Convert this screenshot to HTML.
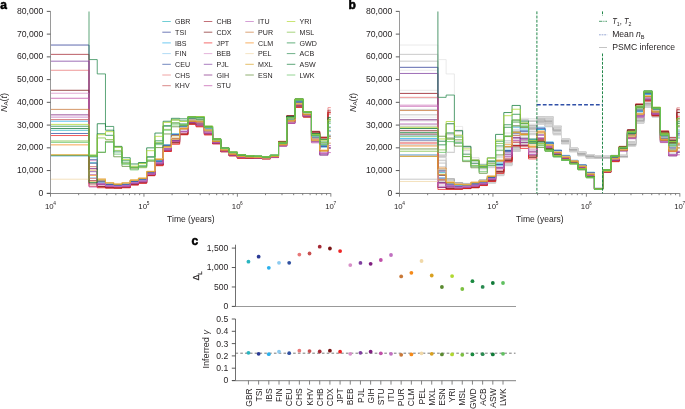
<!DOCTYPE html><html><head><meta charset="utf-8"><style>html,body{margin:0;padding:0;background:#fff;width:685px;height:409px;overflow:hidden}svg{display:block;will-change:transform}text{font-family:"Liberation Sans", sans-serif}</style></head><body><svg width="685" height="409" viewBox="0 0 685 409"><defs><clipPath id="ca"><rect x="51" y="11.4" width="281" height="182"/></clipPath><clipPath id="cb"><rect x="400" y="11.4" width="281" height="182"/></clipPath></defs><text x="0.2" y="8.8" font-size="12" font-weight="bold" fill="#000" stroke="#000" stroke-width="0.55">a</text><path d="M50.50 11.40V193.30" stroke="#9a9a9a" stroke-width="1" fill="none"/><path d="M46.80 193.50H330.80" stroke="#8a8a8a" stroke-width="1.1" fill="none"/><path d="M46.80 193.30H50.50" stroke="#4a4a4a" stroke-width="0.9"/><text x="43.30" y="195.90" font-size="8.3" fill="#231f20" text-anchor="end" textLength="4.80" lengthAdjust="spacingAndGlyphs">0</text><path d="M46.80 170.56H50.50" stroke="#4a4a4a" stroke-width="0.9"/><text x="43.30" y="173.16" font-size="8.3" fill="#231f20" text-anchor="end" textLength="26.40" lengthAdjust="spacingAndGlyphs">10,000</text><path d="M46.80 147.82H50.50" stroke="#4a4a4a" stroke-width="0.9"/><text x="43.30" y="150.42" font-size="8.3" fill="#231f20" text-anchor="end" textLength="26.40" lengthAdjust="spacingAndGlyphs">20,000</text><path d="M46.80 125.08H50.50" stroke="#4a4a4a" stroke-width="0.9"/><text x="43.30" y="127.68" font-size="8.3" fill="#231f20" text-anchor="end" textLength="26.40" lengthAdjust="spacingAndGlyphs">30,000</text><path d="M46.80 102.34H50.50" stroke="#4a4a4a" stroke-width="0.9"/><text x="43.30" y="104.94" font-size="8.3" fill="#231f20" text-anchor="end" textLength="26.40" lengthAdjust="spacingAndGlyphs">40,000</text><path d="M46.80 79.60H50.50" stroke="#4a4a4a" stroke-width="0.9"/><text x="43.30" y="82.20" font-size="8.3" fill="#231f20" text-anchor="end" textLength="26.40" lengthAdjust="spacingAndGlyphs">50,000</text><path d="M46.80 56.86H50.50" stroke="#4a4a4a" stroke-width="0.9"/><text x="43.30" y="59.46" font-size="8.3" fill="#231f20" text-anchor="end" textLength="26.40" lengthAdjust="spacingAndGlyphs">60,000</text><path d="M46.80 34.12H50.50" stroke="#4a4a4a" stroke-width="0.9"/><text x="43.30" y="36.72" font-size="8.3" fill="#231f20" text-anchor="end" textLength="26.40" lengthAdjust="spacingAndGlyphs">70,000</text><path d="M46.80 11.38H50.50" stroke="#4a4a4a" stroke-width="0.9"/><text x="43.30" y="13.98" font-size="8.3" fill="#231f20" text-anchor="end" textLength="26.40" lengthAdjust="spacingAndGlyphs">80,000</text><path d="M50.50 193.30V196.70" stroke="#767676" stroke-width="0.9"/><path d="M78.63 193.30V195.20" stroke="#767676" stroke-width="0.9"/><path d="M95.09 193.30V195.20" stroke="#767676" stroke-width="0.9"/><path d="M106.76 193.30V195.20" stroke="#767676" stroke-width="0.9"/><path d="M115.82 193.30V195.20" stroke="#767676" stroke-width="0.9"/><path d="M123.22 193.30V195.20" stroke="#767676" stroke-width="0.9"/><path d="M129.47 193.30V195.20" stroke="#767676" stroke-width="0.9"/><path d="M134.89 193.30V195.20" stroke="#767676" stroke-width="0.9"/><path d="M139.67 193.30V195.20" stroke="#767676" stroke-width="0.9"/><path d="M143.95 193.30V196.70" stroke="#767676" stroke-width="0.9"/><path d="M172.08 193.30V195.20" stroke="#767676" stroke-width="0.9"/><path d="M188.54 193.30V195.20" stroke="#767676" stroke-width="0.9"/><path d="M200.21 193.30V195.20" stroke="#767676" stroke-width="0.9"/><path d="M209.27 193.30V195.20" stroke="#767676" stroke-width="0.9"/><path d="M216.67 193.30V195.20" stroke="#767676" stroke-width="0.9"/><path d="M222.92 193.30V195.20" stroke="#767676" stroke-width="0.9"/><path d="M228.34 193.30V195.20" stroke="#767676" stroke-width="0.9"/><path d="M233.12 193.30V195.20" stroke="#767676" stroke-width="0.9"/><path d="M237.40 193.30V196.70" stroke="#767676" stroke-width="0.9"/><path d="M265.53 193.30V195.20" stroke="#767676" stroke-width="0.9"/><path d="M281.99 193.30V195.20" stroke="#767676" stroke-width="0.9"/><path d="M293.66 193.30V195.20" stroke="#767676" stroke-width="0.9"/><path d="M302.72 193.30V195.20" stroke="#767676" stroke-width="0.9"/><path d="M310.12 193.30V195.20" stroke="#767676" stroke-width="0.9"/><path d="M316.37 193.30V195.20" stroke="#767676" stroke-width="0.9"/><path d="M321.79 193.30V195.20" stroke="#767676" stroke-width="0.9"/><path d="M326.57 193.30V195.20" stroke="#767676" stroke-width="0.9"/><path d="M330.85 193.30V196.70" stroke="#767676" stroke-width="0.9"/><text x="44.90" y="208.6" font-size="7.8" fill="#231f20">10<tspan font-size="4.8" dx="-0.4" dy="-3.3">4</tspan></text><text x="138.35" y="208.6" font-size="7.8" fill="#231f20">10<tspan font-size="4.8" dx="-0.4" dy="-3.3">5</tspan></text><text x="231.80" y="208.6" font-size="7.8" fill="#231f20">10<tspan font-size="4.8" dx="-0.4" dy="-3.3">6</tspan></text><text x="325.25" y="208.6" font-size="7.8" fill="#231f20">10<tspan font-size="4.8" dx="-0.4" dy="-3.3">7</tspan></text><text x="190.90" y="221.8" font-size="9.1" fill="#231f20" text-anchor="middle" textLength="47.6" lengthAdjust="spacingAndGlyphs">Time (years)</text><text transform="translate(6.60 102.5) rotate(-90)" font-size="8.3" fill="#231f20" text-anchor="middle" textLength="19" lengthAdjust="spacingAndGlyphs"><tspan font-style="italic">N</tspan><tspan font-size="5.8" dy="1.7">A</tspan><tspan dy="-1.7">(</tspan><tspan font-style="italic">t</tspan>)</text><g clip-path="url(#ca)" fill="none" stroke-width="0.90"><path d="M51.00 130.31H89.00V162.79H97.24V180.96H105.48V184.59H113.72V184.71H121.96V184.37H130.20V181.30H138.44V179.63H146.68V172.61H154.92V161.11H163.16V144.85H171.40V133.55H179.64V126.17H187.88V118.81H196.12V120.35H204.36V128.86H212.60V140.66H220.84V149.25H229.08V153.34H237.32V155.70H245.56V156.25H253.80V156.78H262.04V157.38H270.28V155.78H278.52V143.62H286.76V119.68H295.00V101.79H303.24V113.44H311.48V136.43H319.72V145.42H327.96V130.32H330.80" stroke="#2bb5c0" stroke-opacity="0.85"/><path d="M51.00 45.04H89.00V159.76H97.24V182.96H105.48V184.22H113.72V185.43H121.96V184.74H130.20V181.63H138.44V179.59H146.68V172.80H154.92V161.67H163.16V145.25H171.40V134.63H179.64V127.46H187.88V119.26H196.12V119.52H204.36V130.33H212.60V140.19H220.84V149.30H229.08V153.08H237.32V155.62H245.56V156.77H253.80V156.75H262.04V157.51H270.28V156.15H278.52V144.23H286.76V120.23H295.00V102.20H303.24V114.69H311.48V137.47H319.72V146.10H327.96V136.66H330.80" stroke="#2a3a95" stroke-opacity="0.85"/><path d="M51.00 121.21H89.00V178.02H97.24V182.87H105.48V185.23H113.72V185.23H121.96V184.51H130.20V182.33H138.44V180.46H146.68V173.62H154.92V161.92H163.16V146.11H171.40V135.60H179.64V126.00H187.88V120.66H196.12V121.13H204.36V130.43H212.60V141.01H220.84V149.91H229.08V153.74H237.32V156.41H245.56V156.77H253.80V157.22H262.04V157.85H270.28V156.30H278.52V144.49H286.76V120.31H295.00V103.12H303.24V114.53H311.48V138.53H319.72V147.20H327.96V135.15H330.80" stroke="#2ab0ec" stroke-opacity="0.85"/><path d="M51.00 156.23H89.00V157.60H97.24V181.39H105.48V183.89H113.72V184.58H121.96V184.19H130.20V181.70H138.44V179.39H146.68V172.67H154.92V160.16H163.16V144.93H171.40V133.67H179.64V125.39H187.88V117.92H196.12V118.76H204.36V128.03H212.60V139.78H220.84V148.83H229.08V153.13H237.32V155.35H245.56V156.23H253.80V156.61H262.04V157.32H270.28V155.60H278.52V143.03H286.76V118.53H295.00V100.42H303.24V113.33H311.48V136.32H319.72V143.63H327.96V126.50H330.80" stroke="#8ccbf0" stroke-opacity="0.85"/><path d="M51.00 133.49H89.00V163.19H97.24V181.37H105.48V184.46H113.72V185.12H121.96V184.41H130.20V181.50H138.44V179.75H146.68V172.64H154.92V160.84H163.16V145.30H171.40V134.86H179.64V126.84H187.88V119.08H196.12V121.33H204.36V129.03H212.60V140.79H220.84V148.95H229.08V153.43H237.32V155.59H245.56V156.47H253.80V156.89H262.04V157.32H270.28V155.99H278.52V143.79H286.76V120.49H295.00V101.89H303.24V112.96H311.48V138.36H319.72V146.52H327.96V131.44H330.80" stroke="#3050a0" stroke-opacity="0.85"/><path d="M51.00 70.28H89.00V178.42H97.24V186.08H105.48V187.09H113.72V187.33H121.96V186.58H130.20V183.87H138.44V182.30H146.68V174.88H154.92V164.49H163.16V150.52H171.40V142.30H179.64V133.34H187.88V123.13H196.12V125.46H204.36V132.69H212.60V143.14H220.84V151.06H229.08V155.29H237.32V157.59H245.56V157.87H253.80V157.77H262.04V158.68H270.28V157.22H278.52V141.23H286.76V115.52H295.00V105.86H303.24V116.62H311.48V131.16H319.72V137.45H327.96V107.65H330.80" stroke="#e87878" stroke-opacity="0.85"/><path d="M51.00 119.62H89.00V166.68H97.24V186.72H105.48V187.99H113.72V188.09H121.96V187.54H130.20V184.96H138.44V182.89H146.68V175.22H154.92V165.25H163.16V151.26H171.40V143.55H179.64V134.41H187.88V123.05H196.12V126.21H204.36V134.49H212.60V143.57H220.84V151.75H229.08V155.57H237.32V158.14H245.56V158.25H253.80V158.18H262.04V158.82H270.28V157.49H278.52V141.76H286.76V116.70H295.00V107.06H303.24V117.13H311.48V132.54H319.72V139.03H327.96V114.02H330.80" stroke="#c85050" stroke-opacity="0.85"/><path d="M51.00 54.36H89.00V180.60H97.24V186.61H105.48V187.36H113.72V187.88H121.96V187.20H130.20V184.49H138.44V182.70H146.68V175.18H154.92V164.78H163.16V150.34H171.40V141.82H179.64V133.81H187.88V124.02H196.12V126.10H204.36V133.88H212.60V143.71H220.84V151.67H229.08V155.51H237.32V157.76H245.56V158.07H253.80V157.77H262.04V158.64H270.28V157.20H278.52V141.56H286.76V115.80H295.00V105.78H303.24V116.25H311.48V131.90H319.72V137.28H327.96V110.19H330.80" stroke="#a52a35" stroke-opacity="0.85"/><path d="M51.00 90.29H89.00V183.95H97.24V186.93H105.48V187.75H113.72V187.98H121.96V187.54H130.20V184.47H138.44V182.96H146.68V175.48H154.92V165.00H163.16V151.08H171.40V142.32H179.64V134.40H187.88V123.92H196.12V124.96H204.36V133.82H212.60V143.45H220.84V151.64H229.08V155.75H237.32V157.90H245.56V158.03H253.80V157.96H262.04V158.67H270.28V157.30H278.52V141.99H286.76V115.87H295.00V107.00H303.24V116.80H311.48V131.67H319.72V137.30H327.96V112.15H330.80" stroke="#7a1515" stroke-opacity="0.85"/><path d="M51.00 135.54H89.00V186.23H97.24V187.79H105.48V188.05H113.72V188.05H121.96V187.79H130.20V185.04H138.44V183.28H146.68V175.76H154.92V165.74H163.16V151.50H171.40V144.33H179.64V134.84H187.88V124.36H196.12V126.89H204.36V135.06H212.60V143.87H220.84V151.61H229.08V155.90H237.32V158.23H245.56V158.24H253.80V158.26H262.04V158.88H270.28V157.60H278.52V141.97H286.76V117.12H295.00V107.38H303.24V116.98H311.48V133.25H319.72V138.00H327.96V112.36H330.80" stroke="#ee2525" stroke-opacity="0.85"/><path d="M51.00 93.24H89.00V160.65H97.24V183.10H105.48V185.42H113.72V186.20H121.96V185.42H130.20V182.48H138.44V180.58H146.68V173.37H154.92V162.53H163.16V149.03H171.40V138.62H179.64V129.39H187.88V121.40H196.12V122.35H204.36V130.99H212.60V141.98H220.84V150.09H229.08V154.29H237.32V156.79H245.56V157.12H253.80V157.36H262.04V158.07H270.28V156.36H278.52V145.41H286.76V121.32H295.00V104.35H303.24V114.91H311.48V139.76H319.72V150.93H327.96V145.53H330.80" stroke="#d890c8" stroke-opacity="0.85"/><path d="M51.00 61.18H89.00V171.67H97.24V184.42H105.48V185.88H113.72V186.32H121.96V186.08H130.20V183.08H138.44V181.15H146.68V173.67H154.92V163.00H163.16V148.60H171.40V140.29H179.64V131.38H187.88V122.40H196.12V123.41H204.36V131.88H212.60V142.43H220.84V150.82H229.08V154.84H237.32V157.06H245.56V157.41H253.80V157.77H262.04V158.46H270.28V156.93H278.52V146.04H286.76V122.94H295.00V103.92H303.24V114.91H311.48V141.87H319.72V154.21H327.96V148.43H330.80" stroke="#8040a0" stroke-opacity="0.85"/><path d="M51.00 114.85H89.00V168.56H97.24V183.99H105.48V186.66H113.72V186.40H121.96V185.98H130.20V183.56H138.44V181.65H146.68V174.24H154.92V163.38H163.16V149.17H171.40V140.67H179.64V131.36H187.88V122.61H196.12V124.06H204.36V133.44H212.60V142.94H220.84V150.39H229.08V154.91H237.32V157.26H245.56V157.76H253.80V157.78H262.04V158.26H270.28V156.90H278.52V145.87H286.76V123.28H295.00V105.81H303.24V116.19H311.48V141.52H319.72V155.20H327.96V147.57H330.80" stroke="#802080" stroke-opacity="0.85"/><path d="M51.00 98.25H89.00V186.96H97.24V184.79H105.48V186.43H113.72V186.62H121.96V186.75H130.20V183.74H138.44V181.92H146.68V174.64H154.92V163.98H163.16V150.21H171.40V141.52H179.64V132.13H187.88V122.01H196.12V125.46H204.36V133.71H212.60V143.05H220.84V151.17H229.08V155.12H237.32V157.50H245.56V157.73H253.80V157.87H262.04V158.65H270.28V157.17H278.52V146.12H286.76V123.44H295.00V104.86H303.24V115.91H311.48V142.82H319.72V153.50H327.96V152.59H330.80" stroke="#c050a8" stroke-opacity="0.85"/><path d="M51.00 117.12H89.00V174.53H97.24V183.49H105.48V185.77H113.72V186.53H121.96V185.62H130.20V182.68H138.44V181.07H146.68V173.92H154.92V162.84H163.16V148.16H171.40V138.72H179.64V131.33H187.88V121.57H196.12V122.91H204.36V132.57H212.60V142.04H220.84V150.45H229.08V154.54H237.32V156.47H245.56V157.22H253.80V157.37H262.04V158.14H270.28V156.92H278.52V145.75H286.76V122.56H295.00V103.58H303.24V115.86H311.48V141.33H319.72V152.44H327.96V145.61H330.80" stroke="#c070c0" stroke-opacity="0.85"/><path d="M51.00 109.39H89.00V170.12H97.24V180.80H105.48V182.90H113.72V184.11H121.96V182.98H130.20V180.50H138.44V178.49H146.68V171.71H154.92V159.28H163.16V146.45H171.40V138.79H179.64V128.14H187.88V121.22H196.12V122.83H204.36V131.01H212.60V141.49H220.84V150.44H229.08V153.87H237.32V156.33H245.56V157.26H253.80V157.06H262.04V157.95H270.28V156.46H278.52V144.89H286.76V121.74H295.00V103.23H303.24V114.88H311.48V140.05H319.72V150.60H327.96V143.17H330.80" stroke="#c87838" stroke-opacity="0.85"/><path d="M51.00 144.86H89.00V175.35H97.24V178.76H105.48V182.55H113.72V183.72H121.96V182.53H130.20V180.02H138.44V178.25H146.68V171.44H154.92V159.00H163.16V147.34H171.40V135.68H179.64V128.50H187.88V120.26H196.12V121.59H204.36V130.02H212.60V141.06H220.84V149.59H229.08V154.27H237.32V156.56H245.56V157.05H253.80V156.93H262.04V157.71H270.28V156.28H278.52V144.83H286.76V120.77H295.00V104.02H303.24V114.07H311.48V139.02H319.72V150.61H327.96V135.99H330.80" stroke="#f58a1a" stroke-opacity="0.85"/><path d="M51.00 179.20H89.00V170.33H97.24V178.65H105.48V182.73H113.72V183.40H121.96V182.55H130.20V179.97H138.44V177.90H146.68V171.09H154.92V158.57H163.16V147.12H171.40V137.48H179.64V127.44H187.88V119.75H196.12V120.84H204.36V130.09H212.60V140.53H220.84V149.47H229.08V153.47H237.32V156.29H245.56V156.69H253.80V157.18H262.04V157.79H270.28V156.15H278.52V144.28H286.76V120.12H295.00V103.55H303.24V113.48H311.48V138.17H319.72V149.64H327.96V131.62H330.80" stroke="#f0d8a8" stroke-opacity="0.85"/><path d="M51.00 154.64H89.00V181.89H97.24V179.63H105.48V183.02H113.72V184.35H121.96V183.04H130.20V180.02H138.44V178.21H146.68V171.49H154.92V159.32H163.16V146.74H171.40V139.06H179.64V129.13H187.88V121.44H196.12V121.04H204.36V130.14H212.60V141.51H220.84V149.98H229.08V153.93H237.32V156.50H245.56V156.87H253.80V157.25H262.04V157.78H270.28V156.38H278.52V144.55H286.76V120.64H295.00V103.89H303.24V114.48H311.48V140.68H319.72V151.20H327.96V138.43H330.80" stroke="#d8a020" stroke-opacity="0.85"/><path d="M51.00 155.55H89.00V156.56H97.24V152.42H105.48V141.27H113.72V156.78H121.96V166.37H130.20V168.84H138.44V166.92H146.68V161.22H154.92V147.60H163.16V133.96H171.40V126.77H179.64V125.58H187.88V118.10H196.12V117.89H204.36V127.56H212.60V139.83H220.84V148.58H229.08V152.72H237.32V155.24H245.56V155.93H253.80V156.51H262.04V157.06H270.28V155.61H278.52V143.50H286.76V118.94H295.00V100.33H303.24V112.59H311.48V135.71H319.72V144.02H327.96V127.65H330.80" stroke="#5a8a30" stroke-opacity="0.85"/><path d="M51.00 126.22H89.00V155.33H97.24V133.76H105.48V135.31H113.72V147.00H121.96V160.79H130.20V167.13H138.44V162.93H146.68V156.99H154.92V140.82H163.16V125.75H171.40V119.90H179.64V120.90H187.88V116.90H196.12V117.35H204.36V126.37H212.60V139.11H220.84V148.08H229.08V152.31H237.32V154.90H245.56V155.76H253.80V156.11H262.04V156.83H270.28V155.24H278.52V142.64H286.76V117.57H295.00V99.00H303.24V112.04H311.48V133.38H319.72V142.00H327.96V119.26H330.80" stroke="#1a8a40" stroke-opacity="0.85"/><path d="M51.00 -22.73H89.00V59.59H97.24V73.92H105.48V126.44H113.72V151.87H121.96V162.88H130.20V167.33H138.44V165.95H146.68V156.89H154.92V143.42H163.16V126.11H171.40V123.02H179.64V123.90H187.88V117.31H196.12V117.62H204.36V126.49H212.60V139.17H220.84V148.11H229.08V152.37H237.32V154.54H245.56V155.86H253.80V156.32H262.04V156.94H270.28V155.34H278.52V142.27H286.76V116.95H295.00V99.62H303.24V111.82H311.48V135.01H319.72V139.76H327.96V121.89H330.80" stroke="#2a8a50" stroke-opacity="0.85"/><path d="M51.00 128.49H89.00V182.61H97.24V123.72H105.48V130.21H113.72V146.37H121.96V157.72H130.20V163.97H138.44V162.68H146.68V147.83H154.92V133.05H163.16V121.25H171.40V118.32H179.64V118.84H187.88V116.59H196.12V116.72H204.36V126.33H212.60V138.72H220.84V147.89H229.08V151.96H237.32V154.51H245.56V155.56H253.80V156.04H262.04V156.74H270.28V155.10H278.52V142.19H286.76V116.36H295.00V98.75H303.24V111.61H311.48V133.69H319.72V139.26H327.96V117.46H330.80" stroke="#107a38" stroke-opacity="0.85"/><path d="M51.00 124.40H89.00V154.99H97.24V134.76H105.48V131.63H113.72V147.16H121.96V159.55H130.20V166.15H138.44V163.63H146.68V150.66H154.92V136.33H163.16V122.43H171.40V119.93H179.64V121.41H187.88V116.77H196.12V116.62H204.36V126.03H212.60V138.95H220.84V148.24H229.08V152.01H237.32V154.63H245.56V155.58H253.80V156.13H262.04V156.75H270.28V155.23H278.52V142.21H286.76V117.73H295.00V99.03H303.24V111.64H311.48V134.43H319.72V140.19H327.96V120.05H330.80" stroke="#b0d830" stroke-opacity="0.85"/><path d="M51.00 141.00H89.00V156.14H97.24V137.94H105.48V139.57H113.72V150.43H121.96V163.29H130.20V167.59H138.44V167.70H146.68V160.28H154.92V142.62H163.16V129.38H171.40V122.91H179.64V125.03H187.88V117.19H196.12V119.28H204.36V127.06H212.60V139.76H220.84V148.21H229.08V152.22H237.32V154.92H245.56V156.00H253.80V156.29H262.04V157.04H270.28V155.45H278.52V143.01H286.76V117.85H295.00V99.47H303.24V112.67H311.48V134.33H319.72V142.34H327.96V119.87H330.80" stroke="#7cc040" stroke-opacity="0.85"/><path d="M51.00 142.36H89.00V155.76H97.24V152.15H105.48V142.40H113.72V154.14H121.96V164.30H130.20V169.90H138.44V166.11H146.68V160.06H154.92V144.64H163.16V130.23H171.40V124.91H179.64V124.56H187.88V117.34H196.12V117.62H204.36V127.19H212.60V139.36H220.84V148.56H229.08V152.48H237.32V154.96H245.56V155.92H253.80V156.26H262.04V157.14H270.28V155.28H278.52V143.54H286.76V117.57H295.00V100.51H303.24V112.46H311.48V135.85H319.72V144.68H327.96V123.59H330.80" stroke="#60c060" stroke-opacity="0.85"/></g><path d="M162.30 21.50H170.80" stroke="#2bb5c0" stroke-width="0.9" opacity="0.75"/><text x="175.10" y="24.10" font-size="7.1" fill="#231f20">GBR</text><path d="M162.30 32.20H170.80" stroke="#2a3a95" stroke-width="0.9" opacity="0.75"/><text x="175.10" y="34.80" font-size="7.1" fill="#231f20">TSI</text><path d="M162.30 42.90H170.80" stroke="#2ab0ec" stroke-width="0.9" opacity="0.75"/><text x="175.10" y="45.50" font-size="7.1" fill="#231f20">IBS</text><path d="M162.30 53.60H170.80" stroke="#8ccbf0" stroke-width="0.9" opacity="0.75"/><text x="175.10" y="56.20" font-size="7.1" fill="#231f20">FIN</text><path d="M162.30 64.30H170.80" stroke="#3050a0" stroke-width="0.9" opacity="0.75"/><text x="175.10" y="66.90" font-size="7.1" fill="#231f20">CEU</text><path d="M162.30 75.00H170.80" stroke="#e87878" stroke-width="0.9" opacity="0.75"/><text x="175.10" y="77.60" font-size="7.1" fill="#231f20">CHS</text><path d="M162.30 85.70H170.80" stroke="#c85050" stroke-width="0.9" opacity="0.75"/><text x="175.10" y="88.30" font-size="7.1" fill="#231f20">KHV</text><path d="M203.80 21.50H212.30" stroke="#a52a35" stroke-width="0.9" opacity="0.75"/><text x="216.60" y="24.10" font-size="7.1" fill="#231f20">CHB</text><path d="M203.80 32.20H212.30" stroke="#7a1515" stroke-width="0.9" opacity="0.75"/><text x="216.60" y="34.80" font-size="7.1" fill="#231f20">CDX</text><path d="M203.80 42.90H212.30" stroke="#ee2525" stroke-width="0.9" opacity="0.75"/><text x="216.60" y="45.50" font-size="7.1" fill="#231f20">JPT</text><path d="M203.80 53.60H212.30" stroke="#d890c8" stroke-width="0.9" opacity="0.75"/><text x="216.60" y="56.20" font-size="7.1" fill="#231f20">BEB</text><path d="M203.80 64.30H212.30" stroke="#8040a0" stroke-width="0.9" opacity="0.75"/><text x="216.60" y="66.90" font-size="7.1" fill="#231f20">PJL</text><path d="M203.80 75.00H212.30" stroke="#802080" stroke-width="0.9" opacity="0.75"/><text x="216.60" y="77.60" font-size="7.1" fill="#231f20">GIH</text><path d="M203.80 85.70H212.30" stroke="#c050a8" stroke-width="0.9" opacity="0.75"/><text x="216.60" y="88.30" font-size="7.1" fill="#231f20">STU</text><path d="M245.30 21.50H253.80" stroke="#c070c0" stroke-width="0.9" opacity="0.75"/><text x="258.10" y="24.10" font-size="7.1" fill="#231f20">ITU</text><path d="M245.30 32.20H253.80" stroke="#c87838" stroke-width="0.9" opacity="0.75"/><text x="258.10" y="34.80" font-size="7.1" fill="#231f20">PUR</text><path d="M245.30 42.90H253.80" stroke="#f58a1a" stroke-width="0.9" opacity="0.75"/><text x="258.10" y="45.50" font-size="7.1" fill="#231f20">CLM</text><path d="M245.30 53.60H253.80" stroke="#f0d8a8" stroke-width="0.9" opacity="0.75"/><text x="258.10" y="56.20" font-size="7.1" fill="#231f20">PEL</text><path d="M245.30 64.30H253.80" stroke="#d8a020" stroke-width="0.9" opacity="0.75"/><text x="258.10" y="66.90" font-size="7.1" fill="#231f20">MXL</text><path d="M245.30 75.00H253.80" stroke="#5a8a30" stroke-width="0.9" opacity="0.75"/><text x="258.10" y="77.60" font-size="7.1" fill="#231f20">ESN</text><path d="M286.80 21.50H295.30" stroke="#b0d830" stroke-width="0.9" opacity="0.75"/><text x="299.60" y="24.10" font-size="7.1" fill="#231f20">YRI</text><path d="M286.80 32.20H295.30" stroke="#7cc040" stroke-width="0.9" opacity="0.75"/><text x="299.60" y="34.80" font-size="7.1" fill="#231f20">MSL</text><path d="M286.80 42.90H295.30" stroke="#1a8a40" stroke-width="0.9" opacity="0.75"/><text x="299.60" y="45.50" font-size="7.1" fill="#231f20">GWD</text><path d="M286.80 53.60H295.30" stroke="#2a8a50" stroke-width="0.9" opacity="0.75"/><text x="299.60" y="56.20" font-size="7.1" fill="#231f20">ACB</text><path d="M286.80 64.30H295.30" stroke="#107a38" stroke-width="0.9" opacity="0.75"/><text x="299.60" y="66.90" font-size="7.1" fill="#231f20">ASW</text><path d="M286.80 75.00H295.30" stroke="#60c060" stroke-width="0.9" opacity="0.75"/><text x="299.60" y="77.60" font-size="7.1" fill="#231f20">LWK</text><text x="348.4" y="9.0" font-size="12" font-weight="bold" fill="#000" stroke="#000" stroke-width="0.55">b</text><path d="M399.50 11.40V193.30" stroke="#9a9a9a" stroke-width="1" fill="none"/><path d="M395.80 193.50H679.80" stroke="#8a8a8a" stroke-width="1.1" fill="none"/><path d="M395.80 193.30H399.50" stroke="#4a4a4a" stroke-width="0.9"/><text x="392.30" y="195.90" font-size="8.3" fill="#231f20" text-anchor="end" textLength="4.80" lengthAdjust="spacingAndGlyphs">0</text><path d="M395.80 170.56H399.50" stroke="#4a4a4a" stroke-width="0.9"/><text x="392.30" y="173.16" font-size="8.3" fill="#231f20" text-anchor="end" textLength="26.40" lengthAdjust="spacingAndGlyphs">10,000</text><path d="M395.80 147.82H399.50" stroke="#4a4a4a" stroke-width="0.9"/><text x="392.30" y="150.42" font-size="8.3" fill="#231f20" text-anchor="end" textLength="26.40" lengthAdjust="spacingAndGlyphs">20,000</text><path d="M395.80 125.08H399.50" stroke="#4a4a4a" stroke-width="0.9"/><text x="392.30" y="127.68" font-size="8.3" fill="#231f20" text-anchor="end" textLength="26.40" lengthAdjust="spacingAndGlyphs">30,000</text><path d="M395.80 102.34H399.50" stroke="#4a4a4a" stroke-width="0.9"/><text x="392.30" y="104.94" font-size="8.3" fill="#231f20" text-anchor="end" textLength="26.40" lengthAdjust="spacingAndGlyphs">40,000</text><path d="M395.80 79.60H399.50" stroke="#4a4a4a" stroke-width="0.9"/><text x="392.30" y="82.20" font-size="8.3" fill="#231f20" text-anchor="end" textLength="26.40" lengthAdjust="spacingAndGlyphs">50,000</text><path d="M395.80 56.86H399.50" stroke="#4a4a4a" stroke-width="0.9"/><text x="392.30" y="59.46" font-size="8.3" fill="#231f20" text-anchor="end" textLength="26.40" lengthAdjust="spacingAndGlyphs">60,000</text><path d="M395.80 34.12H399.50" stroke="#4a4a4a" stroke-width="0.9"/><text x="392.30" y="36.72" font-size="8.3" fill="#231f20" text-anchor="end" textLength="26.40" lengthAdjust="spacingAndGlyphs">70,000</text><path d="M395.80 11.38H399.50" stroke="#4a4a4a" stroke-width="0.9"/><text x="392.30" y="13.98" font-size="8.3" fill="#231f20" text-anchor="end" textLength="26.40" lengthAdjust="spacingAndGlyphs">80,000</text><path d="M399.50 193.30V196.70" stroke="#767676" stroke-width="0.9"/><path d="M427.63 193.30V195.20" stroke="#767676" stroke-width="0.9"/><path d="M444.09 193.30V195.20" stroke="#767676" stroke-width="0.9"/><path d="M455.76 193.30V195.20" stroke="#767676" stroke-width="0.9"/><path d="M464.82 193.30V195.20" stroke="#767676" stroke-width="0.9"/><path d="M472.22 193.30V195.20" stroke="#767676" stroke-width="0.9"/><path d="M478.47 193.30V195.20" stroke="#767676" stroke-width="0.9"/><path d="M483.89 193.30V195.20" stroke="#767676" stroke-width="0.9"/><path d="M488.67 193.30V195.20" stroke="#767676" stroke-width="0.9"/><path d="M492.95 193.30V196.70" stroke="#767676" stroke-width="0.9"/><path d="M521.08 193.30V195.20" stroke="#767676" stroke-width="0.9"/><path d="M537.54 193.30V195.20" stroke="#767676" stroke-width="0.9"/><path d="M549.21 193.30V195.20" stroke="#767676" stroke-width="0.9"/><path d="M558.27 193.30V195.20" stroke="#767676" stroke-width="0.9"/><path d="M565.67 193.30V195.20" stroke="#767676" stroke-width="0.9"/><path d="M571.92 193.30V195.20" stroke="#767676" stroke-width="0.9"/><path d="M577.34 193.30V195.20" stroke="#767676" stroke-width="0.9"/><path d="M582.12 193.30V195.20" stroke="#767676" stroke-width="0.9"/><path d="M586.40 193.30V196.70" stroke="#767676" stroke-width="0.9"/><path d="M614.53 193.30V195.20" stroke="#767676" stroke-width="0.9"/><path d="M630.99 193.30V195.20" stroke="#767676" stroke-width="0.9"/><path d="M642.66 193.30V195.20" stroke="#767676" stroke-width="0.9"/><path d="M651.72 193.30V195.20" stroke="#767676" stroke-width="0.9"/><path d="M659.12 193.30V195.20" stroke="#767676" stroke-width="0.9"/><path d="M665.37 193.30V195.20" stroke="#767676" stroke-width="0.9"/><path d="M670.79 193.30V195.20" stroke="#767676" stroke-width="0.9"/><path d="M675.57 193.30V195.20" stroke="#767676" stroke-width="0.9"/><path d="M679.85 193.30V196.70" stroke="#767676" stroke-width="0.9"/><text x="393.90" y="208.6" font-size="7.8" fill="#231f20">10<tspan font-size="4.8" dx="-0.4" dy="-3.3">4</tspan></text><text x="487.35" y="208.6" font-size="7.8" fill="#231f20">10<tspan font-size="4.8" dx="-0.4" dy="-3.3">5</tspan></text><text x="580.80" y="208.6" font-size="7.8" fill="#231f20">10<tspan font-size="4.8" dx="-0.4" dy="-3.3">6</tspan></text><text x="674.25" y="208.6" font-size="7.8" fill="#231f20">10<tspan font-size="4.8" dx="-0.4" dy="-3.3">7</tspan></text><text x="539.90" y="221.8" font-size="9.1" fill="#231f20" text-anchor="middle" textLength="47.6" lengthAdjust="spacingAndGlyphs">Time (years)</text><text transform="translate(355.60 102.5) rotate(-90)" font-size="8.3" fill="#231f20" text-anchor="middle" textLength="19" lengthAdjust="spacingAndGlyphs"><tspan font-style="italic">N</tspan><tspan font-size="5.8" dy="1.7">A</tspan><tspan dy="-1.7">(</tspan><tspan font-style="italic">t</tspan>)</text><g clip-path="url(#cb)" fill="none" stroke-width="0.90"><path d="M400.00 130.31H437.90V162.79H446.14V180.96H454.38V184.59H462.62V184.71H470.86V184.37H479.10V181.30H487.34V179.63H495.58V172.61H503.82V161.11H512.06V144.85H520.30V133.55H528.54V126.17H536.78V118.81H545.02V120.35H553.26V128.86H561.50V140.66H569.74V149.25H577.98V153.34H586.22V155.70H594.46V156.25H602.70V156.78H610.94V157.38H619.18V155.78H627.42V143.62H635.66V119.68H643.90V101.79H652.14V113.44H660.38V136.43H668.62V145.42H676.86V130.32H679.80" stroke="#dedede" stroke-opacity="0.75"/><path d="M400.00 45.04H437.90V159.76H446.14V182.96H454.38V184.22H462.62V185.43H470.86V184.74H479.10V181.63H487.34V179.59H495.58V172.80H503.82V161.67H512.06V145.25H520.30V134.63H528.54V127.46H536.78V119.26H545.02V119.52H553.26V130.33H561.50V140.19H569.74V149.30H577.98V153.08H586.22V155.62H594.46V156.77H602.70V156.75H610.94V157.51H619.18V156.15H627.42V144.23H635.66V120.23H643.90V102.20H652.14V114.69H660.38V137.47H668.62V146.10H676.86V136.66H679.80" stroke="#e0e0e0" stroke-opacity="0.75"/><path d="M400.00 121.21H437.90V178.02H446.14V182.87H454.38V185.23H462.62V185.23H470.86V184.51H479.10V182.33H487.34V180.46H495.58V173.62H503.82V161.92H512.06V146.11H520.30V135.60H528.54V126.00H536.78V120.66H545.02V121.13H553.26V130.43H561.50V141.01H569.74V149.91H577.98V153.74H586.22V156.41H594.46V156.77H602.70V157.22H610.94V157.85H619.18V156.30H627.42V144.49H635.66V120.31H643.90V103.12H652.14V114.53H660.38V138.53H668.62V147.20H676.86V135.15H679.80" stroke="#dedede" stroke-opacity="0.75"/><path d="M400.00 156.23H437.90V157.60H446.14V181.39H454.38V183.89H462.62V184.58H470.86V184.19H479.10V181.70H487.34V179.39H495.58V172.67H503.82V160.16H512.06V144.93H520.30V133.67H528.54V125.39H536.78V117.92H545.02V118.76H553.26V128.03H561.50V139.78H569.74V148.83H577.98V153.13H586.22V155.35H594.46V156.23H602.70V156.61H610.94V157.32H619.18V155.60H627.42V143.03H635.66V118.53H643.90V100.42H652.14V113.33H660.38V136.32H668.62V143.63H676.86V126.50H679.80" stroke="#bdbdbd" stroke-opacity="0.75"/><path d="M400.00 133.49H437.90V163.19H446.14V181.37H454.38V184.46H462.62V185.12H470.86V184.41H479.10V181.50H487.34V179.75H495.58V172.64H503.82V160.84H512.06V145.30H520.30V134.86H528.54V126.84H536.78V119.08H545.02V121.33H553.26V129.03H561.50V140.79H569.74V148.95H577.98V153.43H586.22V155.59H594.46V156.47H602.70V156.89H610.94V157.32H619.18V155.99H627.42V143.79H635.66V120.49H643.90V101.89H652.14V112.96H660.38V138.36H668.62V146.52H676.86V131.44H679.80" stroke="#bcbcbc" stroke-opacity="0.75"/><path d="M400.00 70.28H437.90V178.42H446.14V186.08H454.38V187.09H462.62V187.33H470.86V186.58H479.10V183.87H487.34V182.30H495.58V174.88H503.82V164.49H512.06V150.52H520.30V142.30H528.54V133.34H536.78V123.13H545.02V125.46H553.26V132.69H561.50V143.14H569.74V151.06H577.98V155.29H586.22V157.59H594.46V157.87H602.70V157.77H610.94V158.68H619.18V157.22H627.42V141.23H635.66V115.52H643.90V105.86H652.14V116.62H660.38V131.16H668.62V137.45H676.86V107.65H679.80" stroke="#e1e1e1" stroke-opacity="0.75"/><path d="M400.00 119.62H437.90V166.68H446.14V186.72H454.38V187.99H462.62V188.09H470.86V187.54H479.10V184.96H487.34V182.89H495.58V175.22H503.82V165.25H512.06V151.26H520.30V143.55H528.54V134.41H536.78V123.05H545.02V126.21H553.26V134.49H561.50V143.57H569.74V151.75H577.98V155.57H586.22V158.14H594.46V158.25H602.70V158.18H610.94V158.82H619.18V157.49H627.42V141.76H635.66V116.70H643.90V107.06H652.14V117.13H660.38V132.54H668.62V139.03H676.86V114.02H679.80" stroke="#bcbcbc" stroke-opacity="0.75"/><path d="M400.00 54.36H437.90V180.60H446.14V186.61H454.38V187.36H462.62V187.88H470.86V187.20H479.10V184.49H487.34V182.70H495.58V175.18H503.82V164.78H512.06V150.34H520.30V141.82H528.54V133.81H536.78V124.02H545.02V126.10H553.26V133.88H561.50V143.71H569.74V151.67H577.98V155.51H586.22V157.76H594.46V158.07H602.70V157.77H610.94V158.64H619.18V157.20H627.42V141.56H635.66V115.80H643.90V105.78H652.14V116.25H660.38V131.90H668.62V137.28H676.86V110.19H679.80" stroke="#b1b1b1" stroke-opacity="0.75"/><path d="M400.00 90.29H437.90V183.95H446.14V186.93H454.38V187.75H462.62V187.98H470.86V187.54H479.10V184.47H487.34V182.96H495.58V175.48H503.82V165.00H512.06V151.08H520.30V142.32H528.54V134.40H536.78V123.92H545.02V124.96H553.26V133.82H561.50V143.45H569.74V151.64H577.98V155.75H586.22V157.90H594.46V158.03H602.70V157.96H610.94V158.67H619.18V157.30H627.42V141.99H635.66V115.87H643.90V107.00H652.14V116.80H660.38V131.67H668.62V137.30H676.86V112.15H679.80" stroke="#dedede" stroke-opacity="0.75"/><path d="M400.00 135.54H437.90V186.23H446.14V187.79H454.38V188.05H462.62V188.05H470.86V187.79H479.10V185.04H487.34V183.28H495.58V175.76H503.82V165.74H512.06V151.50H520.30V144.33H528.54V134.84H536.78V124.36H545.02V126.89H553.26V135.06H561.50V143.87H569.74V151.61H577.98V155.90H586.22V158.23H594.46V158.24H602.70V158.26H610.94V158.88H619.18V157.60H627.42V141.97H635.66V117.12H643.90V107.38H652.14V116.98H660.38V133.25H668.62V138.00H676.86V112.36H679.80" stroke="#cbcbcb" stroke-opacity="0.75"/><path d="M400.00 93.24H437.90V160.65H446.14V183.10H454.38V185.42H462.62V186.20H470.86V185.42H479.10V182.48H487.34V180.58H495.58V173.37H503.82V162.53H512.06V149.03H520.30V138.62H528.54V129.39H536.78V121.40H545.02V122.35H553.26V130.99H561.50V141.98H569.74V150.09H577.98V154.29H586.22V156.79H594.46V157.12H602.70V157.36H610.94V158.07H619.18V156.36H627.42V145.41H635.66V121.32H643.90V104.35H652.14V114.91H660.38V139.76H668.62V150.93H676.86V145.53H679.80" stroke="#b7b7b7" stroke-opacity="0.75"/><path d="M400.00 61.18H437.90V171.67H446.14V184.42H454.38V185.88H462.62V186.32H470.86V186.08H479.10V183.08H487.34V181.15H495.58V173.67H503.82V163.00H512.06V148.60H520.30V140.29H528.54V131.38H536.78V122.40H545.02V123.41H553.26V131.88H561.50V142.43H569.74V150.82H577.98V154.84H586.22V157.06H594.46V157.41H602.70V157.77H610.94V158.46H619.18V156.93H627.42V146.04H635.66V122.94H643.90V103.92H652.14V114.91H660.38V141.87H668.62V154.21H676.86V148.43H679.80" stroke="#b0b0b0" stroke-opacity="0.75"/><path d="M400.00 114.85H437.90V168.56H446.14V183.99H454.38V186.66H462.62V186.40H470.86V185.98H479.10V183.56H487.34V181.65H495.58V174.24H503.82V163.38H512.06V149.17H520.30V140.67H528.54V131.36H536.78V122.61H545.02V124.06H553.26V133.44H561.50V142.94H569.74V150.39H577.98V154.91H586.22V157.26H594.46V157.76H602.70V157.78H610.94V158.26H619.18V156.90H627.42V145.87H635.66V123.28H643.90V105.81H652.14V116.19H660.38V141.52H668.62V155.20H676.86V147.57H679.80" stroke="#aaaaaa" stroke-opacity="0.75"/><path d="M400.00 98.25H437.90V186.96H446.14V184.79H454.38V186.43H462.62V186.62H470.86V186.75H479.10V183.74H487.34V181.92H495.58V174.64H503.82V163.98H512.06V150.21H520.30V141.52H528.54V132.13H536.78V122.01H545.02V125.46H553.26V133.71H561.50V143.05H569.74V151.17H577.98V155.12H586.22V157.50H594.46V157.73H602.70V157.87H610.94V158.65H619.18V157.17H627.42V146.12H635.66V123.44H643.90V104.86H652.14V115.91H660.38V142.82H668.62V153.50H676.86V152.59H679.80" stroke="#d7d7d7" stroke-opacity="0.75"/><path d="M400.00 117.12H437.90V174.53H446.14V183.49H454.38V185.77H462.62V186.53H470.86V185.62H479.10V182.68H487.34V181.07H495.58V173.92H503.82V162.84H512.06V148.16H520.30V138.72H528.54V131.33H536.78V121.57H545.02V122.91H553.26V132.57H561.50V142.04H569.74V150.45H577.98V154.54H586.22V156.47H594.46V157.22H602.70V157.37H610.94V158.14H619.18V156.92H627.42V145.75H635.66V122.56H643.90V103.58H652.14V115.86H660.38V141.33H668.62V152.44H676.86V145.61H679.80" stroke="#dedede" stroke-opacity="0.75"/><path d="M400.00 109.39H437.90V170.12H446.14V180.80H454.38V182.90H462.62V184.11H470.86V182.98H479.10V180.50H487.34V178.49H495.58V171.71H503.82V159.28H512.06V146.45H520.30V138.79H528.54V128.14H536.78V121.22H545.02V122.83H553.26V131.01H561.50V141.49H569.74V150.44H577.98V153.87H586.22V156.33H594.46V157.26H602.70V157.06H610.94V157.95H619.18V156.46H627.42V144.89H635.66V121.74H643.90V103.23H652.14V114.88H660.38V140.05H668.62V150.60H676.86V143.17H679.80" stroke="#b9b9b9" stroke-opacity="0.75"/><path d="M400.00 144.86H437.90V175.35H446.14V178.76H454.38V182.55H462.62V183.72H470.86V182.53H479.10V180.02H487.34V178.25H495.58V171.44H503.82V159.00H512.06V147.34H520.30V135.68H528.54V128.50H536.78V120.26H545.02V121.59H553.26V130.02H561.50V141.06H569.74V149.59H577.98V154.27H586.22V156.56H594.46V157.05H602.70V156.93H610.94V157.71H619.18V156.28H627.42V144.83H635.66V120.77H643.90V104.02H652.14V114.07H660.38V139.02H668.62V150.61H676.86V135.99H679.80" stroke="#a6a6a6" stroke-opacity="0.75"/><path d="M400.00 179.20H437.90V170.33H446.14V178.65H454.38V182.73H462.62V183.40H470.86V182.55H479.10V179.97H487.34V177.90H495.58V171.09H503.82V158.57H512.06V147.12H520.30V137.48H528.54V127.44H536.78V119.75H545.02V120.84H553.26V130.09H561.50V140.53H569.74V149.47H577.98V153.47H586.22V156.29H594.46V156.69H602.70V157.18H610.94V157.79H619.18V156.15H627.42V144.28H635.66V120.12H643.90V103.55H652.14V113.48H660.38V138.17H668.62V149.64H676.86V131.62H679.80" stroke="#adadad" stroke-opacity="0.75"/><path d="M400.00 154.64H437.90V181.89H446.14V179.63H454.38V183.02H462.62V184.35H470.86V183.04H479.10V180.02H487.34V178.21H495.58V171.49H503.82V159.32H512.06V146.74H520.30V139.06H528.54V129.13H536.78V121.44H545.02V121.04H553.26V130.14H561.50V141.51H569.74V149.98H577.98V153.93H586.22V156.50H594.46V156.87H602.70V157.25H610.94V157.78H619.18V156.38H627.42V144.55H635.66V120.64H643.90V103.89H652.14V114.48H660.38V140.68H668.62V151.20H676.86V138.43H679.80" stroke="#acacac" stroke-opacity="0.75"/><path d="M400.00 155.55H437.90V156.56H446.14V152.42H454.38V141.27H462.62V156.78H470.86V166.37H479.10V168.84H487.34V166.92H495.58V161.22H503.82V147.60H512.06V133.96H520.30V126.77H528.54V125.58H536.78V118.10H545.02V117.89H553.26V127.56H561.50V139.83H569.74V148.58H577.98V152.72H586.22V155.24H594.46V155.93H602.70V156.51H610.94V157.06H619.18V155.61H627.42V143.50H635.66V118.94H643.90V100.33H652.14V112.59H660.38V135.71H668.62V144.02H676.86V127.65H679.80" stroke="#a9a9a9" stroke-opacity="0.75"/><path d="M400.00 124.40H437.90V154.99H446.14V134.76H454.38V131.63H462.62V147.16H470.86V159.55H479.10V166.15H487.34V163.63H495.58V150.66H503.82V136.33H512.06V122.43H520.30V119.93H528.54V121.41H536.78V116.77H545.02V116.62H553.26V126.03H561.50V138.95H569.74V148.24H577.98V152.01H586.22V154.63H594.46V155.58H602.70V156.13H610.94V156.75H619.18V155.23H627.42V142.21H635.66V117.73H643.90V99.03H652.14V111.64H660.38V134.43H668.62V140.19H676.86V120.05H679.80" stroke="#bdbdbd" stroke-opacity="0.75"/><path d="M400.00 141.00H437.90V156.14H446.14V137.94H454.38V139.57H462.62V150.43H470.86V163.29H479.10V167.59H487.34V167.70H495.58V160.28H503.82V142.62H512.06V129.38H520.30V122.91H528.54V125.03H536.78V117.19H545.02V119.28H553.26V127.06H561.50V139.76H569.74V148.21H577.98V152.22H586.22V154.92H594.46V156.00H602.70V156.29H610.94V157.04H619.18V155.45H627.42V143.01H635.66V117.85H643.90V99.47H652.14V112.67H660.38V134.33H668.62V142.34H676.86V119.87H679.80" stroke="#c3c3c3" stroke-opacity="0.75"/><path d="M400.00 126.22H437.90V155.33H446.14V133.76H454.38V135.31H462.62V147.00H470.86V160.79H479.10V167.13H487.34V162.93H495.58V156.99H503.82V140.82H512.06V125.75H520.30V119.90H528.54V120.90H536.78V116.90H545.02V117.35H553.26V126.37H561.50V139.11H569.74V148.08H577.98V152.31H586.22V154.90H594.46V155.76H602.70V156.11H610.94V156.83H619.18V155.24H627.42V142.64H635.66V117.57H643.90V99.00H652.14V112.04H660.38V133.38H668.62V142.00H676.86V119.26H679.80" stroke="#a8a8a8" stroke-opacity="0.75"/><path d="M400.00 -22.73H437.90V59.59H446.14V73.92H454.38V126.44H462.62V151.87H470.86V162.88H479.10V167.33H487.34V165.95H495.58V156.89H503.82V143.42H512.06V126.11H520.30V123.02H528.54V123.90H536.78V117.31H545.02V117.62H553.26V126.49H561.50V139.17H569.74V148.11H577.98V152.37H586.22V154.54H594.46V155.86H602.70V156.32H610.94V156.94H619.18V155.34H627.42V142.27H635.66V116.95H643.90V99.62H652.14V111.82H660.38V135.01H668.62V139.76H676.86V121.89H679.80" stroke="#e0e0e0" stroke-opacity="0.75"/><path d="M400.00 128.49H437.90V182.61H446.14V123.72H454.38V130.21H462.62V146.37H470.86V157.72H479.10V163.97H487.34V162.68H495.58V147.83H503.82V133.05H512.06V121.25H520.30V118.32H528.54V118.84H536.78V116.59H545.02V116.72H553.26V126.33H561.50V138.72H569.74V147.89H577.98V151.96H586.22V154.51H594.46V155.56H602.70V156.04H610.94V156.74H619.18V155.10H627.42V142.19H635.66V116.36H643.90V98.75H652.14V111.61H660.38V133.69H668.62V139.26H676.86V117.46H679.80" stroke="#cecece" stroke-opacity="0.75"/><path d="M400.00 142.36H437.90V155.76H446.14V152.15H454.38V142.40H462.62V154.14H470.86V164.30H479.10V169.90H487.34V166.11H495.58V160.06H503.82V144.64H512.06V130.23H520.30V124.91H528.54V124.56H536.78V117.34H545.02V117.62H553.26V127.19H561.50V139.36H569.74V148.56H577.98V152.48H586.22V154.96H594.46V155.92H602.70V156.26H610.94V157.14H619.18V155.28H627.42V143.54H635.66V117.57H643.90V100.51H652.14V112.46H660.38V135.85H668.62V144.68H676.86V123.59H679.80" stroke="#dddddd" stroke-opacity="0.75"/><path d="M400.00 134.86H437.90V172.68H446.14V184.11H454.38V185.76H462.62V185.96H470.86V183.91H479.10V181.93H487.34V177.35H495.58V163.66H503.82V150.70H512.06V127.10H520.30V128.95H528.54V139.45H536.78V129.39H545.02V141.96H553.26V150.41H561.50V155.36H569.74V160.63H577.98V164.96H586.22V172.39H594.46V188.55H602.70V170.42H610.94V157.09H619.18V148.90H627.42V133.60H635.66V111.18H643.90V93.45H652.14V109.63H660.38V135.52H668.62V144.95H676.86V129.99H679.80" stroke="#2bb5c0" stroke-opacity="0.85"/><path d="M400.00 67.32H437.90V178.09H446.14V184.90H454.38V185.77H462.62V185.74H470.86V184.31H479.10V182.58H487.34V178.05H495.58V164.65H503.82V150.57H512.06V133.07H520.30V130.76H528.54V141.51H536.78V128.95H545.02V143.45H553.26V150.91H561.50V155.86H569.74V160.71H577.98V165.26H586.22V172.93H594.46V188.42H602.70V170.51H610.94V157.14H619.18V149.04H627.42V134.70H635.66V111.09H643.90V94.21H652.14V110.41H660.38V138.09H668.62V148.72H676.86V133.35H679.80" stroke="#2a3a95" stroke-opacity="0.85"/><path d="M400.00 138.50H437.90V171.58H446.14V185.37H454.38V186.57H462.62V186.38H470.86V184.79H479.10V183.16H487.34V178.75H495.58V165.77H503.82V152.77H512.06V132.54H520.30V135.40H528.54V141.94H536.78V129.50H545.02V143.28H553.26V151.56H561.50V156.12H569.74V161.15H577.98V165.50H586.22V173.30H594.46V188.54H602.70V170.84H610.94V158.27H619.18V149.06H627.42V135.58H635.66V111.87H643.90V94.58H652.14V111.42H660.38V137.44H668.62V149.75H676.86V137.74H679.80" stroke="#2ab0ec" stroke-opacity="0.85"/><path d="M400.00 154.64H437.90V177.70H446.14V183.27H454.38V185.34H462.62V185.41H470.86V183.41H479.10V182.05H487.34V177.11H495.58V162.48H503.82V149.24H512.06V127.42H520.30V130.07H528.54V139.35H536.78V127.05H545.02V141.93H553.26V150.24H561.50V155.50H569.74V160.15H577.98V164.72H586.22V172.15H594.46V188.32H602.70V170.06H610.94V156.92H619.18V147.87H627.42V133.09H635.66V109.72H643.90V93.25H652.14V108.86H660.38V135.99H668.62V144.75H676.86V132.67H679.80" stroke="#8ccbf0" stroke-opacity="0.85"/><path d="M400.00 140.09H437.90V170.07H446.14V184.26H454.38V186.46H462.62V186.02H470.86V183.71H479.10V182.19H487.34V177.49H495.58V164.55H503.82V151.49H512.06V131.32H520.30V131.76H528.54V143.62H536.78V128.06H545.02V142.59H553.26V150.26H561.50V155.94H569.74V160.46H577.98V165.01H586.22V172.53H594.46V188.40H602.70V170.65H610.94V157.41H619.18V148.57H627.42V133.11H635.66V110.10H643.90V93.37H652.14V109.95H660.38V136.76H668.62V147.82H676.86V134.90H679.80" stroke="#3050a0" stroke-opacity="0.85"/><path d="M400.00 97.34H437.90V187.55H446.14V187.80H454.38V188.20H462.62V188.03H470.86V186.75H479.10V184.74H487.34V180.70H495.58V170.89H503.82V158.75H512.06V142.66H520.30V145.16H528.54V152.07H536.78V138.79H545.02V146.85H553.26V154.14H561.50V158.11H569.74V162.27H577.98V167.68H586.22V175.71H594.46V188.88H602.70V171.80H610.94V160.63H619.18V146.26H627.42V129.99H635.66V103.63H643.90V98.95H652.14V114.23H660.38V130.66H668.62V137.63H676.86V107.92H679.80" stroke="#e87878" stroke-opacity="0.85"/><path d="M400.00 134.18H437.90V180.04H446.14V189.23H454.38V188.79H462.62V188.62H470.86V187.23H479.10V185.22H487.34V181.21H495.58V173.12H503.82V161.49H512.06V145.74H520.30V146.63H528.54V156.64H536.78V140.47H545.02V148.80H553.26V154.72H561.50V159.31H569.74V162.95H577.98V168.73H586.22V176.46H594.46V189.16H602.70V172.17H610.94V161.57H619.18V146.81H627.42V131.52H635.66V104.53H643.90V100.05H652.14V115.50H660.38V131.09H668.62V139.74H676.86V112.37H679.80" stroke="#c85050" stroke-opacity="0.85"/><path d="M400.00 93.47H437.90V182.65H446.14V188.48H454.38V188.96H462.62V188.44H470.86V187.40H479.10V184.80H487.34V180.58H495.58V171.67H503.82V159.87H512.06V142.04H520.30V145.46H528.54V155.63H536.78V138.83H545.02V149.19H553.26V154.93H561.50V159.02H569.74V162.59H577.98V168.09H586.22V175.46H594.46V188.98H602.70V172.07H610.94V160.78H619.18V146.62H627.42V129.93H635.66V104.23H643.90V100.35H652.14V114.66H660.38V131.83H668.62V137.77H676.86V109.60H679.80" stroke="#a52a35" stroke-opacity="0.85"/><path d="M400.00 130.77H437.90V175.18H446.14V188.74H454.38V189.07H462.62V188.56H470.86V187.46H479.10V185.12H487.34V181.07H495.58V171.83H503.82V160.55H512.06V145.50H520.30V145.47H528.54V157.45H536.78V139.89H545.02V148.22H553.26V154.00H561.50V158.97H569.74V162.81H577.98V168.26H586.22V175.49H594.46V189.09H602.70V172.24H610.94V160.96H619.18V146.57H627.42V129.79H635.66V104.56H643.90V99.72H652.14V115.63H660.38V131.67H668.62V140.43H676.86V112.51H679.80" stroke="#7a1515" stroke-opacity="0.85"/><path d="M400.00 143.04H437.90V189.43H446.14V189.43H454.38V189.31H462.62V188.44H470.86V187.81H479.10V185.57H487.34V181.35H495.58V173.29H503.82V162.01H512.06V145.93H520.30V148.44H528.54V158.93H536.78V141.41H545.02V149.31H553.26V154.93H561.50V159.11H569.74V163.18H577.98V168.74H586.22V177.03H594.46V189.22H602.70V172.25H610.94V161.67H619.18V147.26H627.42V130.84H635.66V106.44H643.90V101.16H652.14V115.93H660.38V132.40H668.62V142.50H676.86V116.22H679.80" stroke="#ee2525" stroke-opacity="0.85"/><path d="M400.00 105.07H437.90V171.41H446.14V184.92H454.38V186.66H462.62V186.43H470.86V185.03H479.10V183.12H487.34V178.87H495.58V167.00H503.82V152.45H512.06V135.72H520.30V139.51H528.54V149.31H536.78V135.11H545.02V144.79H553.26V153.08H561.50V157.36H569.74V161.46H577.98V166.50H586.22V174.82H594.46V188.82H602.70V171.43H610.94V159.65H619.18V150.01H627.42V136.96H635.66V114.16H643.90V96.60H652.14V112.16H660.38V140.43H668.62V151.05H676.86V144.59H679.80" stroke="#d890c8" stroke-opacity="0.85"/><path d="M400.00 73.46H437.90V182.45H446.14V185.93H454.38V186.85H462.62V187.31H470.86V185.04H479.10V183.68H487.34V179.04H495.58V168.10H503.82V156.11H512.06V138.08H520.30V138.62H528.54V154.21H536.78V134.91H545.02V146.76H553.26V153.22H561.50V157.75H569.74V161.93H577.98V167.25H586.22V174.85H594.46V188.81H602.70V171.61H610.94V159.50H619.18V150.76H627.42V138.05H635.66V116.36H643.90V97.01H652.14V113.73H660.38V141.98H668.62V154.82H676.86V152.47H679.80" stroke="#8040a0" stroke-opacity="0.85"/><path d="M400.00 119.85H437.90V187.50H446.14V186.93H454.38V187.25H462.62V187.21H470.86V185.98H479.10V183.74H487.34V179.47H495.58V167.80H503.82V154.27H512.06V137.64H520.30V142.46H528.54V151.16H536.78V137.95H545.02V146.98H553.26V153.51H561.50V158.33H569.74V162.48H577.98V167.52H586.22V175.20H594.46V188.89H602.70V171.54H610.94V160.20H619.18V150.70H627.42V137.97H635.66V115.23H643.90V99.04H652.14V113.84H660.38V140.68H668.62V155.97H676.86V151.75H679.80" stroke="#802080" stroke-opacity="0.85"/><path d="M400.00 106.21H437.90V183.68H446.14V187.18H454.38V188.08H462.62V187.45H470.86V186.20H479.10V184.17H487.34V179.66H495.58V168.96H503.82V157.02H512.06V140.44H520.30V145.08H528.54V154.79H536.78V138.59H545.02V147.30H553.26V154.30H561.50V158.11H569.74V162.34H577.98V167.77H586.22V175.60H594.46V188.96H602.70V171.80H610.94V160.00H619.18V150.95H627.42V138.72H635.66V117.31H643.90V99.60H652.14V114.37H660.38V142.41H668.62V155.31H676.86V154.77H679.80" stroke="#c050a8" stroke-opacity="0.85"/><path d="M400.00 123.94H437.90V186.26H446.14V185.53H454.38V187.53H462.62V186.44H470.86V185.29H479.10V183.60H487.34V178.75H495.58V168.52H503.82V154.28H512.06V140.20H520.30V139.73H528.54V152.16H536.78V135.12H545.02V146.59H553.26V153.60H561.50V157.44H569.74V161.67H577.98V166.54H586.22V175.07H594.46V188.70H602.70V171.56H610.94V159.32H619.18V150.36H627.42V137.38H635.66V116.14H643.90V97.80H652.14V113.17H660.38V141.47H668.62V154.50H676.86V151.21H679.80" stroke="#c070c0" stroke-opacity="0.85"/><path d="M400.00 110.53H437.90V179.56H446.14V182.84H454.38V184.28H462.62V184.72H470.86V182.45H479.10V181.10H487.34V176.18H495.58V161.01H503.82V146.47H512.06V135.41H520.30V133.69H528.54V147.75H536.78V132.01H545.02V145.31H553.26V152.53H561.50V157.13H569.74V161.64H577.98V166.54H586.22V173.82H594.46V188.77H602.70V171.25H610.94V158.98H619.18V150.24H627.42V137.10H635.66V113.34H643.90V96.62H652.14V112.33H660.38V140.18H668.62V151.57H676.86V144.85H679.80" stroke="#c87838" stroke-opacity="0.85"/><path d="M400.00 146.00H437.90V168.00H446.14V182.01H454.38V184.19H462.62V184.58H470.86V182.15H479.10V181.48H487.34V175.95H495.58V160.23H503.82V144.63H512.06V132.58H520.30V134.57H528.54V146.58H536.78V131.84H545.02V144.44H553.26V151.78H561.50V156.60H569.74V160.87H577.98V166.04H586.22V174.08H594.46V188.57H602.70V170.87H610.94V158.53H619.18V149.19H627.42V134.99H635.66V114.19H643.90V96.04H652.14V111.12H660.38V139.31H668.62V151.17H676.86V143.30H679.80" stroke="#f58a1a" stroke-opacity="0.85"/><path d="M400.00 181.48H437.90V169.19H446.14V181.48H454.38V184.09H462.62V184.35H470.86V182.13H479.10V180.71H487.34V175.62H495.58V159.34H503.82V144.10H512.06V131.83H520.30V135.50H528.54V144.54H536.78V130.51H545.02V144.52H553.26V151.66H561.50V156.35H569.74V160.83H577.98V166.04H586.22V173.24H594.46V188.44H602.70V170.79H610.94V158.77H619.18V149.30H627.42V136.08H635.66V113.87H643.90V95.42H652.14V110.42H660.38V137.17H668.62V148.99H676.86V138.16H679.80" stroke="#f0d8a8" stroke-opacity="0.85"/><path d="M400.00 156.46H437.90V174.39H446.14V182.69H454.38V184.53H462.62V184.76H470.86V182.75H479.10V181.12H487.34V176.45H495.58V160.93H503.82V146.76H512.06V132.16H520.30V134.57H528.54V146.00H536.78V133.07H545.02V144.92H553.26V152.70H561.50V157.17H569.74V161.25H577.98V166.26H586.22V174.13H594.46V188.61H602.70V171.32H610.94V158.22H619.18V149.90H627.42V135.90H635.66V114.06H643.90V96.11H652.14V111.72H660.38V140.08H668.62V150.15H676.86V147.81H679.80" stroke="#d8a020" stroke-opacity="0.85"/><path d="M400.00 148.96H437.90V136.24H446.14V138.20H454.38V146.14H462.62V161.62H470.86V167.76H479.10V173.29H487.34V165.28H495.58V154.95H503.82V136.58H512.06V125.86H520.30V127.45H528.54V142.68H536.78V147.46H545.02V151.23H553.26V156.85H561.50V160.07H569.74V163.83H577.98V169.84H586.22V177.63H594.46V189.42H602.70V170.09H610.94V156.18H619.18V148.50H627.42V133.49H635.66V108.97H643.90V92.59H652.14V108.75H660.38V135.38H668.62V143.46H676.86V126.15H679.80" stroke="#5a8a30" stroke-opacity="0.85"/><path d="M400.00 132.58H437.90V144.83H446.14V132.91H454.38V136.99H462.62V156.48H470.86V160.79H479.10V167.72H487.34V161.66H495.58V141.23H503.82V127.28H512.06V114.27H520.30V123.34H528.54V140.97H536.78V142.89H545.02V149.28H553.26V156.15H561.50V159.72H569.74V163.52H577.98V169.28H586.22V177.20H594.46V189.31H602.70V169.91H610.94V155.76H619.18V147.82H627.42V132.07H635.66V107.42H643.90V90.70H652.14V107.54H660.38V133.18H668.62V142.19H676.86V121.79H679.80" stroke="#1a8a40" stroke-opacity="0.85"/><path d="M400.00 -22.73H437.90V97.34H446.14V95.06H454.38V143.04H462.62V154.20H470.86V163.31H479.10V166.46H487.34V160.87H495.58V145.93H503.82V124.74H512.06V120.18H520.30V123.77H528.54V141.12H536.78V143.87H545.02V150.21H553.26V156.60H561.50V160.14H569.74V163.59H577.98V169.11H586.22V176.97H594.46V189.32H602.70V169.89H610.94V156.49H619.18V147.52H627.42V133.36H635.66V107.81H643.90V92.00H652.14V108.59H660.38V134.91H668.62V141.52H676.86V123.61H679.80" stroke="#2a8a50" stroke-opacity="0.85"/><path d="M400.00 128.49H437.90V141.22H446.14V123.76H454.38V130.63H462.62V146.32H470.86V160.29H479.10V165.03H487.34V157.90H495.58V134.40H503.82V112.54H512.06V105.44H520.30V121.15H528.54V139.07H536.78V141.66H545.02V149.23H553.26V154.78H561.50V159.53H569.74V163.00H577.98V168.97H586.22V176.63H594.46V189.19H602.70V169.78H610.94V155.42H619.18V147.02H627.42V130.93H635.66V106.00H643.90V91.37H652.14V107.42H660.38V133.27H668.62V140.95H676.86V118.25H679.80" stroke="#107a38" stroke-opacity="0.85"/><path d="M400.00 127.35H437.90V138.94H446.14V121.49H454.38V135.23H462.62V148.90H470.86V160.07H479.10V165.67H487.34V158.14H495.58V140.01H503.82V115.70H512.06V109.22H520.30V122.99H528.54V140.70H536.78V143.69H545.02V150.01H553.26V155.57H561.50V159.71H569.74V163.35H577.98V168.58H586.22V177.12H594.46V189.27H602.70V169.86H610.94V155.70H619.18V147.15H627.42V131.53H635.66V106.06H643.90V91.26H652.14V107.17H660.38V133.27H668.62V141.49H676.86V118.72H679.80" stroke="#b0d830" stroke-opacity="0.85"/><path d="M400.00 151.23H437.90V149.90H446.14V139.37H454.38V139.84H462.62V156.49H470.86V165.56H479.10V167.50H487.34V163.71H495.58V143.43H503.82V136.31H512.06V119.88H520.30V125.98H528.54V142.29H536.78V145.18H545.02V151.07H553.26V156.38H561.50V160.23H569.74V163.80H577.98V169.70H586.22V177.63H594.46V189.29H602.70V170.05H610.94V156.22H619.18V147.57H627.42V132.09H635.66V107.45H643.90V91.93H652.14V108.61H660.38V134.41H668.62V145.09H676.86V125.56H679.80" stroke="#7cc040" stroke-opacity="0.85"/><path d="M400.00 136.68H437.90V152.37H446.14V141.61H454.38V142.95H462.62V160.35H470.86V166.15H479.10V171.69H487.34V165.64H495.58V150.17H503.82V135.95H512.06V122.02H520.30V126.39H528.54V143.31H536.78V145.81H545.02V151.10H553.26V156.77H561.50V160.20H569.74V163.95H577.98V169.41H586.22V177.83H594.46V189.41H602.70V170.27H610.94V156.20H619.18V147.94H627.42V132.52H635.66V106.88H643.90V91.71H652.14V108.25H660.38V135.56H668.62V145.98H676.86V121.18H679.80" stroke="#60c060" stroke-opacity="0.85"/></g><path d="M536.90 11.4V193.3M602.50 11.4V16M602.50 53.5V193.3" stroke="#23874a" stroke-width="1" stroke-dasharray="2.8 1.4" fill="none"/><path d="M536.90 104.8H602.50" stroke="#3050a8" stroke-width="1.6" stroke-dasharray="3.8 2.1" fill="none"/><path d="M599 21.3H607" stroke="#23874a" stroke-width="0.8" stroke-dasharray="3.4 0.9 1.2 0.9"/><path d="M599 34.8H607.2" stroke="#3050a8" stroke-width="0.9" stroke-dasharray="1.8 0.8" opacity="0.55"/><path d="M599 47.5H607" stroke="#b5b5b5" stroke-width="0.8"/><text x="612.2" y="24.4" font-size="8.4" fill="#231f20" textLength="19.2" lengthAdjust="spacingAndGlyphs"><tspan font-style="italic">T</tspan><tspan font-size="5.8" dy="2">1</tspan><tspan dy="-2">, </tspan><tspan font-style="italic">T</tspan><tspan font-size="5.8" dy="2">2</tspan></text><text x="612.2" y="37.0" font-size="8.6" fill="#231f20" textLength="32.4" lengthAdjust="spacingAndGlyphs">Mean <tspan font-style="italic">n</tspan><tspan font-size="5.6" dy="1.6">B</tspan></text><text x="612.2" y="50.2" font-size="8.6" fill="#231f20" textLength="63" lengthAdjust="spacingAndGlyphs">PSMC inference</text><text x="191.6" y="244.6" font-size="12" font-weight="bold" fill="#000" stroke="#000" stroke-width="0.55">c</text><path d="M235.50 244.7V306.5" stroke="#707070" stroke-width="1" fill="none"/><path d="M232.00 306.5H516" stroke="#999" stroke-width="1.1" fill="none"/><path d="M231.80 306.40H235.50" stroke="#4a4a4a" stroke-width="0.9"/><text x="228.30" y="309.30" font-size="8.3" fill="#231f20" text-anchor="end" textLength="4.80" lengthAdjust="spacingAndGlyphs">0</text><path d="M231.80 286.97H235.50" stroke="#4a4a4a" stroke-width="0.9"/><text x="228.30" y="289.87" font-size="8.3" fill="#231f20" text-anchor="end" textLength="14.40" lengthAdjust="spacingAndGlyphs">500</text><path d="M231.80 267.53H235.50" stroke="#4a4a4a" stroke-width="0.9"/><text x="228.30" y="270.43" font-size="8.3" fill="#231f20" text-anchor="end" textLength="21.60" lengthAdjust="spacingAndGlyphs">1,000</text><path d="M231.80 248.10H235.50" stroke="#4a4a4a" stroke-width="0.9"/><text x="228.30" y="251.00" font-size="8.3" fill="#231f20" text-anchor="end" textLength="21.60" lengthAdjust="spacingAndGlyphs">1,500</text><text transform="translate(198.9 275.7) rotate(-90)" font-size="8.2" fill="#231f20" stroke="#231f20" stroke-width="0.25" text-anchor="middle">Δ<tspan font-size="6.2" dy="2.9">L</tspan></text><circle cx="248.45" cy="261.70" r="1.9" fill="#2bb5c0"/><circle cx="258.63" cy="256.70" r="1.9" fill="#2a3a95"/><circle cx="268.81" cy="267.80" r="1.9" fill="#2ab0ec"/><circle cx="279.00" cy="262.80" r="1.9" fill="#8ccbf0"/><circle cx="289.18" cy="262.80" r="1.9" fill="#3050a0"/><circle cx="299.36" cy="254.60" r="1.9" fill="#e87878"/><circle cx="309.54" cy="253.50" r="1.9" fill="#c85050"/><circle cx="319.72" cy="246.70" r="1.9" fill="#a52a35"/><circle cx="329.91" cy="248.50" r="1.9" fill="#7a1515"/><circle cx="340.09" cy="251.10" r="1.9" fill="#ee2525"/><circle cx="350.27" cy="265.10" r="1.9" fill="#d890c8"/><circle cx="360.45" cy="262.90" r="1.9" fill="#8040a0"/><circle cx="370.63" cy="263.80" r="1.9" fill="#802080"/><circle cx="380.82" cy="260.00" r="1.9" fill="#c050a8"/><circle cx="391.00" cy="255.00" r="1.9" fill="#c070c0"/><circle cx="401.18" cy="276.40" r="1.9" fill="#c87838"/><circle cx="411.36" cy="272.80" r="1.9" fill="#f58a1a"/><circle cx="421.54" cy="261.00" r="1.9" fill="#f0d8a8"/><circle cx="431.73" cy="275.50" r="1.9" fill="#d8a020"/><circle cx="441.91" cy="287.00" r="1.9" fill="#5a8a30"/><circle cx="452.09" cy="276.10" r="1.9" fill="#b0d830"/><circle cx="462.27" cy="289.00" r="1.9" fill="#7cc040"/><circle cx="472.45" cy="281.20" r="1.9" fill="#1a8a40"/><circle cx="482.64" cy="286.90" r="1.9" fill="#2a8a50"/><circle cx="492.82" cy="283.00" r="1.9" fill="#107a38"/><circle cx="503.00" cy="283.00" r="1.9" fill="#60c060"/><path d="M235.50 319.00V380.6" stroke="#707070" stroke-width="1" fill="none"/><path d="M232.00 380.6H516" stroke="#999" stroke-width="1.2" fill="none"/><path d="M231.80 380.50H235.50" stroke="#4a4a4a" stroke-width="0.9"/><text x="228.30" y="383.40" font-size="8.3" fill="#231f20" text-anchor="end" textLength="4.80" lengthAdjust="spacingAndGlyphs">0</text><path d="M231.80 368.20H235.50" stroke="#4a4a4a" stroke-width="0.9"/><text x="228.30" y="371.10" font-size="8.3" fill="#231f20" text-anchor="end" textLength="12.00" lengthAdjust="spacingAndGlyphs">0.1</text><path d="M231.80 355.90H235.50" stroke="#4a4a4a" stroke-width="0.9"/><text x="228.30" y="358.80" font-size="8.3" fill="#231f20" text-anchor="end" textLength="12.00" lengthAdjust="spacingAndGlyphs">0.2</text><path d="M231.80 343.60H235.50" stroke="#4a4a4a" stroke-width="0.9"/><text x="228.30" y="346.50" font-size="8.3" fill="#231f20" text-anchor="end" textLength="12.00" lengthAdjust="spacingAndGlyphs">0.3</text><path d="M231.80 331.30H235.50" stroke="#4a4a4a" stroke-width="0.9"/><text x="228.30" y="334.20" font-size="8.3" fill="#231f20" text-anchor="end" textLength="12.00" lengthAdjust="spacingAndGlyphs">0.4</text><path d="M231.80 319.00H235.50" stroke="#4a4a4a" stroke-width="0.9"/><text x="228.30" y="321.90" font-size="8.3" fill="#231f20" text-anchor="end" textLength="12.00" lengthAdjust="spacingAndGlyphs">0.5</text><path d="M235.50 353.2H515.5" stroke="#555" stroke-width="0.8" stroke-dasharray="2.6 2.2" fill="none"/><circle cx="248.45" cy="352.80" r="1.9" fill="#2bb5c0"/><path d="M248.45 380.5V384.6" stroke="#767676" stroke-width="0.9"/><text transform="translate(251.55 388.3) rotate(-90)" font-size="8.5" fill="#231f20" text-anchor="end">GBR</text><circle cx="258.63" cy="353.80" r="1.9" fill="#2a3a95"/><path d="M258.63 380.5V384.6" stroke="#767676" stroke-width="0.9"/><text transform="translate(261.73 388.3) rotate(-90)" font-size="8.5" fill="#231f20" text-anchor="end">TSI</text><circle cx="268.81" cy="354.20" r="1.9" fill="#2ab0ec"/><path d="M268.81 380.5V384.6" stroke="#767676" stroke-width="0.9"/><text transform="translate(271.91 388.3) rotate(-90)" font-size="8.5" fill="#231f20" text-anchor="end">IBS</text><circle cx="279.00" cy="351.70" r="1.9" fill="#8ccbf0"/><path d="M279.00 380.5V384.6" stroke="#767676" stroke-width="0.9"/><text transform="translate(282.10 388.3) rotate(-90)" font-size="8.5" fill="#231f20" text-anchor="end">FIN</text><circle cx="289.18" cy="353.20" r="1.9" fill="#3050a0"/><path d="M289.18 380.5V384.6" stroke="#767676" stroke-width="0.9"/><text transform="translate(292.28 388.3) rotate(-90)" font-size="8.5" fill="#231f20" text-anchor="end">CEU</text><circle cx="299.36" cy="350.70" r="1.9" fill="#e87878"/><path d="M299.36 380.5V384.6" stroke="#767676" stroke-width="0.9"/><text transform="translate(302.46 388.3) rotate(-90)" font-size="8.5" fill="#231f20" text-anchor="end">CHS</text><circle cx="309.54" cy="351.10" r="1.9" fill="#c85050"/><path d="M309.54 380.5V384.6" stroke="#767676" stroke-width="0.9"/><text transform="translate(312.64 388.3) rotate(-90)" font-size="8.5" fill="#231f20" text-anchor="end">KHV</text><circle cx="319.72" cy="351.50" r="1.9" fill="#a52a35"/><path d="M319.72 380.5V384.6" stroke="#767676" stroke-width="0.9"/><text transform="translate(322.82 388.3) rotate(-90)" font-size="8.5" fill="#231f20" text-anchor="end">CHB</text><circle cx="329.91" cy="350.70" r="1.9" fill="#7a1515"/><path d="M329.91 380.5V384.6" stroke="#767676" stroke-width="0.9"/><text transform="translate(333.01 388.3) rotate(-90)" font-size="8.5" fill="#231f20" text-anchor="end">CDX</text><circle cx="340.09" cy="351.70" r="1.9" fill="#ee2525"/><path d="M340.09 380.5V384.6" stroke="#767676" stroke-width="0.9"/><text transform="translate(343.19 388.3) rotate(-90)" font-size="8.5" fill="#231f20" text-anchor="end">JPT</text><circle cx="350.27" cy="353.80" r="1.9" fill="#d890c8"/><path d="M350.27 380.5V384.6" stroke="#767676" stroke-width="0.9"/><text transform="translate(353.37 388.3) rotate(-90)" font-size="8.5" fill="#231f20" text-anchor="end">BEB</text><circle cx="360.45" cy="352.80" r="1.9" fill="#8040a0"/><path d="M360.45 380.5V384.6" stroke="#767676" stroke-width="0.9"/><text transform="translate(363.55 388.3) rotate(-90)" font-size="8.5" fill="#231f20" text-anchor="end">PJL</text><circle cx="370.63" cy="351.70" r="1.9" fill="#802080"/><path d="M370.63 380.5V384.6" stroke="#767676" stroke-width="0.9"/><text transform="translate(373.73 388.3) rotate(-90)" font-size="8.5" fill="#231f20" text-anchor="end">GIH</text><circle cx="380.82" cy="353.30" r="1.9" fill="#c050a8"/><path d="M380.82 380.5V384.6" stroke="#767676" stroke-width="0.9"/><text transform="translate(383.92 388.3) rotate(-90)" font-size="8.5" fill="#231f20" text-anchor="end">STU</text><circle cx="391.00" cy="353.80" r="1.9" fill="#c070c0"/><path d="M391.00 380.5V384.6" stroke="#767676" stroke-width="0.9"/><text transform="translate(394.10 388.3) rotate(-90)" font-size="8.5" fill="#231f20" text-anchor="end">ITU</text><circle cx="401.18" cy="354.80" r="1.9" fill="#c87838"/><path d="M401.18 380.5V384.6" stroke="#767676" stroke-width="0.9"/><text transform="translate(404.28 388.3) rotate(-90)" font-size="8.5" fill="#231f20" text-anchor="end">PUR</text><circle cx="411.36" cy="354.40" r="1.9" fill="#f58a1a"/><path d="M411.36 380.5V384.6" stroke="#767676" stroke-width="0.9"/><text transform="translate(414.46 388.3) rotate(-90)" font-size="8.5" fill="#231f20" text-anchor="end">CLM</text><circle cx="421.54" cy="353.30" r="1.9" fill="#f0d8a8"/><path d="M421.54 380.5V384.6" stroke="#767676" stroke-width="0.9"/><text transform="translate(424.64 388.3) rotate(-90)" font-size="8.5" fill="#231f20" text-anchor="end">PEL</text><circle cx="431.73" cy="353.80" r="1.9" fill="#d8a020"/><path d="M431.73 380.5V384.6" stroke="#767676" stroke-width="0.9"/><text transform="translate(434.83 388.3) rotate(-90)" font-size="8.5" fill="#231f20" text-anchor="end">MXL</text><circle cx="441.91" cy="354.40" r="1.9" fill="#5a8a30"/><path d="M441.91 380.5V384.6" stroke="#767676" stroke-width="0.9"/><text transform="translate(445.01 388.3) rotate(-90)" font-size="8.5" fill="#231f20" text-anchor="end">ESN</text><circle cx="452.09" cy="354.40" r="1.9" fill="#b0d830"/><path d="M452.09 380.5V384.6" stroke="#767676" stroke-width="0.9"/><text transform="translate(455.19 388.3) rotate(-90)" font-size="8.5" fill="#231f20" text-anchor="end">YRI</text><circle cx="462.27" cy="354.80" r="1.9" fill="#7cc040"/><path d="M462.27 380.5V384.6" stroke="#767676" stroke-width="0.9"/><text transform="translate(465.37 388.3) rotate(-90)" font-size="8.5" fill="#231f20" text-anchor="end">MSL</text><circle cx="472.45" cy="354.40" r="1.9" fill="#1a8a40"/><path d="M472.45 380.5V384.6" stroke="#767676" stroke-width="0.9"/><text transform="translate(475.55 388.3) rotate(-90)" font-size="8.5" fill="#231f20" text-anchor="end">GWD</text><circle cx="482.64" cy="354.20" r="1.9" fill="#2a8a50"/><path d="M482.64 380.5V384.6" stroke="#767676" stroke-width="0.9"/><text transform="translate(485.74 388.3) rotate(-90)" font-size="8.5" fill="#231f20" text-anchor="end">ACB</text><circle cx="492.82" cy="354.40" r="1.9" fill="#107a38"/><path d="M492.82 380.5V384.6" stroke="#767676" stroke-width="0.9"/><text transform="translate(495.92 388.3) rotate(-90)" font-size="8.5" fill="#231f20" text-anchor="end">ASW</text><circle cx="503.00" cy="353.80" r="1.9" fill="#60c060"/><path d="M503.00 380.5V384.6" stroke="#767676" stroke-width="0.9"/><text transform="translate(506.10 388.3) rotate(-90)" font-size="8.5" fill="#231f20" text-anchor="end">LWK</text><text transform="translate(209.4 349.3) rotate(-90)" font-size="8.2" fill="#231f20" text-anchor="middle" textLength="38.6" lengthAdjust="spacingAndGlyphs">Inferred <tspan font-style="italic">γ</tspan></text></svg></body></html>
